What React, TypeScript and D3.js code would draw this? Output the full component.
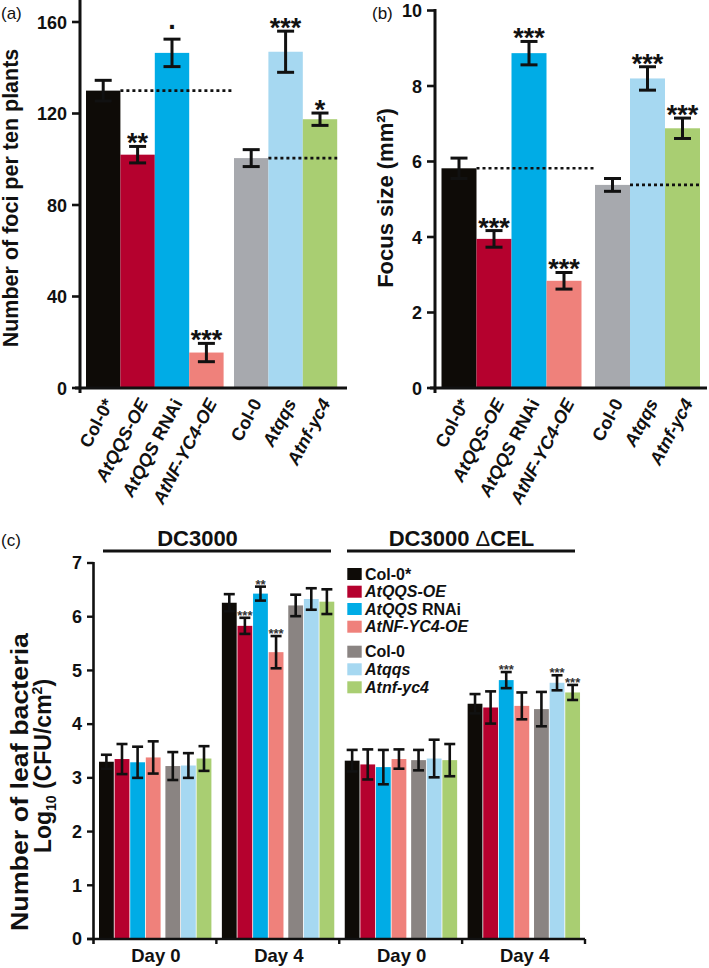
import React from "react";
import * as d3 from "d3";

// ---------- data ----------
const categories = ["Col-0*", "AtQQS-OE", "AtQQS RNAi", "AtNF-YC4-OE", "Col-0", "Atqqs", "Atnf-yc4"];
const italicPart = ["", "AtQQS-OE", "AtQQS", "AtNF-YC4-OE", "", "Atqqs", "Atnf-yc4"];
const colorsAB = ["#0e0b07", "#b5012e", "#00ace6", "#ef817b", "#a7a9ae", "#a6d8f1", "#a9ce72"];
const colorsC = ["#0e0b07", "#b5012e", "#00ace6", "#ef817b", "#8a8482", "#a6d8f1", "#a9ce72"];

const fociMean = [130, 102, 146.5, 15.5, 100.5, 147, 117.5];
const fociErr = [4.5, 3.6, 6, 4, 3.7, 9, 2.7];
const fociSig = ["", "**", ".", "***", "", "***", "*"];
const fociTicks = [0, 40, 80, 120, 160];

const sizeMean = [5.82, 3.95, 8.87, 2.84, 5.38, 8.2, 6.88];
const sizeErr = [0.27, 0.22, 0.31, 0.22, 0.17, 0.31, 0.27];
const sizeSig = ["", "***", "***", "***", "", "***", "***"];
const sizeTicks = [0, 2, 4, 6, 8, 10];

const dayGroups = ["Day 0", "Day 4", "Day 0", "Day 4"];
const strains = ["DC3000", "DC3000 \u0394CEL"];
const dc3000Day0 = [3.3, 3.35, 3.29, 3.38, 3.22, 3.23, 3.36];
const dc3000Day0Err = [0.13, 0.28, 0.29, 0.3, 0.26, 0.23, 0.23];
const dc3000Day0Sig = ["", "", "", "", "", "", ""];
const dc3000Day4 = [6.26, 5.83, 6.43, 5.34, 6.21, 6.33, 6.28];
const dc3000Day4Err = [0.16, 0.15, 0.13, 0.3, 0.2, 0.2, 0.23];
const dc3000Day4Sig = ["", "***", "**", "***", "", "", ""];
const celDay0 = [3.32, 3.25, 3.2, 3.35, 3.33, 3.36, 3.33];
const celDay0Err = [0.2, 0.28, 0.32, 0.18, 0.19, 0.35, 0.3];
const celDay0Sig = ["", "", "", "", "", "", ""];
const celDay4 = [4.38, 4.31, 4.82, 4.34, 4.28, 4.77, 4.59];
const celDay4Err = [0.18, 0.3, 0.15, 0.25, 0.32, 0.14, 0.14];
const celDay4Sig = ["", "", "***", "", "", "***", "***"];
const bacteriaTicks = [0, 1, 2, 3, 4, 5, 6, 7];

const FONT = "'Liberation Sans', Arial, Helvetica, sans-serif";

function CatLabel({ i }: { i: number }) {
  const name = categories[i];
  const it = italicPart[i];
  if (!it) return <tspan>{name}</tspan>;
  const rest = name.slice(it.length);
  return (
    <>
      <tspan fontStyle="italic">{it}</tspan>
      {rest ? <tspan>{rest}</tspan> : null}
    </>
  );
}

type PanelProps = {
  mean: number[];
  err: number[];
  sig: string[];
  ticks: number[];
  domainMax: number;
  yTop: number;
  axisX: number;
  x0: number;
  bw: number;
  gap: number;
  xEnd: number;
  axisTop: number;
};

function BarPanel(p: PanelProps) {
  const y0 = 388;
  const y = d3.scaleLinear().domain([0, p.domainMax]).range([y0, p.yTop]);
  const pos = d3.scaleLinear().domain([0, 1]).range([p.x0, p.x0 + p.bw]);
  const left = (i: number) => pos(i) + (i >= 4 ? p.gap : 0);
  const cx = (i: number) => left(i) + p.bw / 2;
  const capW = 17;
  return (
    <g>
      {p.mean.map((v, i) => (
        <rect key={"b" + i} x={left(i)} y={y(v)} width={p.bw} height={y0 - y(v)} fill={colorsAB[i]} />
      ))}
      {/* dotted control lines */}
      <line x1={left(1)} x2={left(4)} y1={y(p.mean[0])} y2={y(p.mean[0])} stroke="#111" strokeWidth={2.6} strokeDasharray="3,3" />
      <line x1={left(5)} x2={left(7)} y1={y(p.mean[4])} y2={y(p.mean[4])} stroke="#111" strokeWidth={2.6} strokeDasharray="3,3" />
      {p.mean.map((v, i) => {
        const hi = y(v + p.err[i]);
        const lo = y(v - p.err[i]);
        const c = cx(i);
        return (
          <g key={"e" + i} stroke="#111" strokeWidth={3}>
            <line x1={c} x2={c} y1={hi} y2={lo} />
            <line x1={c - capW / 2} x2={c + capW / 2} y1={hi} y2={hi} />
            <line x1={c - capW / 2} x2={c + capW / 2} y1={lo} y2={lo} />
          </g>
        );
      })}
      {p.sig.map((s, i) => {
        if (!s) return null;
        const hi = y(p.mean[i] + p.err[i]);
        const by = s === "." ? hi - 10.5 : hi + 6;
        return (
          <text key={"s" + i} x={cx(i)} y={by} textAnchor="middle" fontSize={27} fontWeight="bold" fontFamily={FONT} fill="#111">
            {s}
          </text>
        );
      })}
      {/* axes */}
      <line x1={p.axisX} x2={p.axisX} y1={p.axisTop} y2={393} stroke="#111" strokeWidth={3} />
      <line x1={p.axisX - 5} x2={p.xEnd} y1={y0} y2={y0} stroke="#111" strokeWidth={3} />
      {p.ticks.map((t) => (
        <g key={"t" + t}>
          <line x1={p.axisX - 8} x2={p.axisX} y1={y(t)} y2={y(t)} stroke="#111" strokeWidth={2.6} />
          <text x={p.axisX - 13} y={y(t) + 6.5} textAnchor="end" fontSize={18} fontWeight="bold" fontFamily={FONT} fill="#111">
            {t}
          </text>
        </g>
      ))}
      {categories.map((_, i) => (
        <text
          key={"l" + i}
          transform={`translate(${cx(i) + 11},${403}) rotate(-62)`}
          textAnchor="end"
          fontSize={18}
          fontWeight="bold"
          fontFamily={FONT}
          fill="#111"
        >
          <CatLabel i={i} />
        </text>
      ))}
    </g>
  );
}

function BacteriaPanel() {
  const y = d3.scaleLinear().domain([0, 7]).range([939, 563]);
  const band = d3.scaleBand().domain(["g0", "g1", "g2", "g3"]).range([93.5, 585]);
  const slot = 15.6;
  const series = [
    [dc3000Day0, dc3000Day0Err, dc3000Day0Sig],
    [dc3000Day4, dc3000Day4Err, dc3000Day4Sig],
    [celDay0, celDay0Err, celDay0Sig],
    [celDay4, celDay4Err, celDay4Sig],
  ] as [number[], number[], string[]][];
  const ids = ["g0", "g1", "g2", "g3"];
  const barLeft = (g: number, i: number) => (band(ids[g]) as number) + 5.5 + i * slot + (i >= 4 ? 4 : 0);
  const capW = 11;
  const legendY = [574, 591.7, 609, 626.7, 651.7, 669.3, 687.3];
  return (
    <g>
      {/* strain headers */}
      <text x={197.5} y={546} textAnchor="middle" fontSize={22} fontWeight="bold" fontFamily={FONT} fill="#111">
        {strains[0]}
      </text>
      <line x1={103} x2={331} y1={551} y2={551} stroke="#111" strokeWidth={3} />
      <text x={461.5} y={546} textAnchor="middle" fontSize={22} fontWeight="bold" fontFamily={FONT} fill="#111">
        <tspan>{strains[1].split(" ")[0]} </tspan>
        <tspan fontWeight="normal">{strains[1].split(" ")[1].slice(0, 1)}</tspan>
        <tspan>{strains[1].split(" ")[1].slice(1)}</tspan>
      </text>
      <line x1={347} x2={575} y1={551} y2={551} stroke="#111" strokeWidth={3} />

      {series.map(([vals, errs, sigs], g) => (
        <g key={"g" + g}>
          {vals.map((v, i) => (
            <rect key={"r" + i} x={barLeft(g, i)} y={y(v)} width={slot - 0.8} height={939 - y(v)} fill={colorsC[i]} />
          ))}
          {vals.map((v, i) => {
            const c = barLeft(g, i) + (slot - 0.8) / 2;
            const hi = y(v + errs[i]);
            const lo = y(v - errs[i]);
            return (
              <g key={"e" + i} stroke="#111" strokeWidth={2.6}>
                <line x1={c} x2={c} y1={hi} y2={lo} />
                <line x1={c - capW / 2} x2={c + capW / 2} y1={hi} y2={hi} />
                <line x1={c - capW / 2} x2={c + capW / 2} y1={lo} y2={lo} />
              </g>
            );
          })}
          {sigs.map((s, i) => {
            if (!s) return null;
            const c = barLeft(g, i) + (slot - 0.8) / 2;
            const hi = y(vals[i] + errs[i]);
            return (
              <text key={"s" + i} x={c} y={hi + 2} textAnchor="middle" fontSize={13} fontWeight="bold" fontFamily={FONT} fill="#333">
                {s}
              </text>
            );
          })}
          <text x={(band(ids[g]) as number) + band.bandwidth() / 2 + 1} y={961.5} textAnchor="middle" fontSize={18.5} fontWeight="bold" fontFamily={FONT} fill="#111">
            {dayGroups[g]}
          </text>
          <line x1={(band(ids[g]) as number) + band.bandwidth()} x2={(band(ids[g]) as number) + band.bandwidth()} y1={939} y2={944} stroke="#111" strokeWidth={2.4} />
        </g>
      ))}

      {/* axes */}
      <line x1={93.5} x2={93.5} y1={562} y2={944} stroke="#111" strokeWidth={2.6} />
      <line x1={87} x2={585} y1={939} y2={939} stroke="#111" strokeWidth={2.6} />
      {bacteriaTicks.map((t) => (
        <g key={"t" + t}>
          <line x1={87} x2={93.5} y1={y(t)} y2={y(t)} stroke="#111" strokeWidth={2.4} />
          <text x={82} y={y(t) + 6.3} textAnchor="end" fontSize={18} fontWeight="bold" fontFamily={FONT} fill="#111">
            {t}
          </text>
        </g>
      ))}

      {/* y label */}
      <text transform="translate(28,782) rotate(-90)" textAnchor="middle" fontSize={23} fontWeight="bold" fontFamily={FONT} fill="#111" textLength={298} lengthAdjust="spacingAndGlyphs">
        Number of leaf bacteria
      </text>
      <text transform="translate(51,766) rotate(-90)" textAnchor="middle" fontSize={23} fontWeight="bold" fontFamily={FONT} fill="#111">
        <tspan>Log</tspan>
        <tspan fontSize={14} dy={5}>10</tspan>
        <tspan dy={-5}> (CFU/cm</tspan>
        <tspan fontSize={14} dy={-9}>2</tspan>
        <tspan dy={9}>)</tspan>
      </text>

      {/* legend */}
      {categories.map((_, i) => (
        <g key={"lg" + i}>
          <rect x={347.3} y={legendY[i] - 6} width={14.4} height={12} fill={colorsC[i]} />
          <text x={365} y={legendY[i] + 5.7} fontSize={16} fontWeight="bold" fontFamily={FONT} fill="#111">
            <CatLabel i={i} />
          </text>
        </g>
      ))}
    </g>
  );
}

export default function App() {
  return (
    <svg width={709} height={968} viewBox="0 0 709 968" style={{ position: "absolute", left: 0, top: 0, background: "#fff" }}>
      <rect x={0} y={0} width={709} height={968} fill="#fff" />
      {/* panel labels */}
      <text x={1} y={19} fontSize={17} fontFamily={FONT} fill="#111">(a)</text>
      <text x={372} y={19} fontSize={17} fontFamily={FONT} fill="#111">(b)</text>
      <text x={1} y={546} fontSize={17} fontFamily={FONT} fill="#111">(c)</text>

      {/* panel a */}
      <text transform="translate(18,198) rotate(-90)" textAnchor="middle" fontSize={21.5} fontWeight="bold" fontFamily={FONT} fill="#111">
        Number of foci per ten plants
      </text>
      <BarPanel mean={fociMean} err={fociErr} sig={fociSig} ticks={fociTicks} domainMax={160} yTop={22} axisX={80} x0={86} bw={34.4} gap={10.4} xEnd={347} axisTop={0} />

      {/* panel b */}
      <text transform="translate(393,198) rotate(-90)" textAnchor="middle" fontSize={22} fontWeight="bold" fontFamily={FONT} fill="#111">
        Focus size (mm²)
      </text>
      <BarPanel mean={sizeMean} err={sizeErr} sig={sizeSig} ticks={sizeTicks} domainMax={10} yTop={10.5} axisX={435} x0={441.5} bw={35} gap={13.5} xEnd={707} axisTop={9} />

      <BacteriaPanel />
    </svg>
  );
}
